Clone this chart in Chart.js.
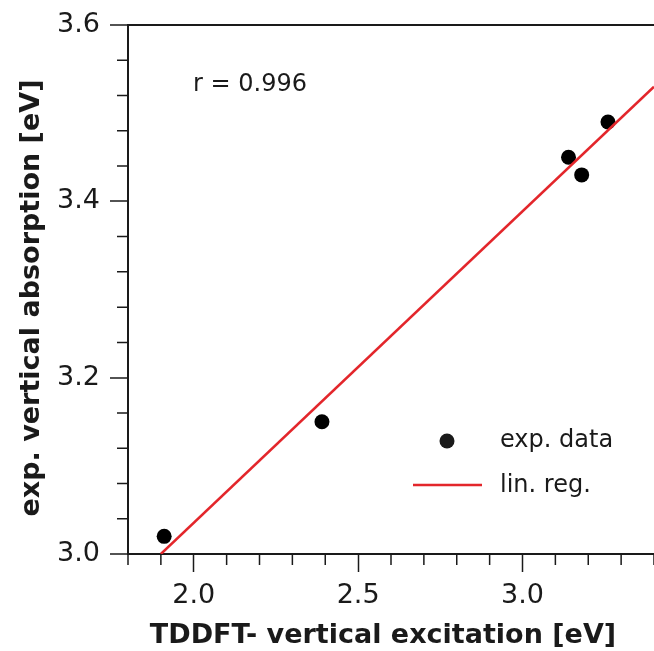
<!DOCTYPE html>
<html>
<head>
<meta charset="utf-8">
<script src="https://cdn.jsdelivr.net/npm/chart.js@4/dist/chart.umd.min.js"></script>
<style>
  html, body { margin: 0; padding: 0; background: #fff; }
  #wrap { width: 654px; height: 651px; }
</style>
</head>
<body>
<div id="wrap"><canvas id="corrChart" width="654" height="651"></canvas></div>
<script>
// measured points (TDDFT vs experiment)
var tddft = [1.91, 2.39, 3.14, 3.18, 3.26];
var expAbs = [3.02, 3.15, 3.45, 3.43, 3.49];

// regression line end points
var regX = [1.9, 3.4];
var regY = [3.0, 3.53];

var xMajor = [2.0, 2.5, 3.0];
var xMinor = [1.8, 1.9, 2.1, 2.2, 2.3, 2.4, 2.6, 2.7, 2.8, 2.9, 3.1, 3.2, 3.3, 3.4];
var yMajor = [3.0, 3.2, 3.4, 3.6];
var yMinor = [3.04, 3.08, 3.12, 3.16, 3.24, 3.28, 3.32, 3.36, 3.44, 3.48, 3.52, 3.56];

var xTitle = 'TDDFT- vertical excitation [eV]';
var yTitle = 'exp. vertical absorption [eV]';
var rText = 'r = 0.996';
var legendLabels = ['exp. data', 'lin. reg.'];

var ink = '#1a1a1a';
var red = '#e3262b';

Chart.defaults.font.family = 'DejaVu Sans';
Chart.defaults.color = ink;

var decorPlugin = {
    id: 'decor',
    afterDraw: function(chart) {
        var ctx = chart.ctx;
        var xs = chart.scales.x, ys = chart.scales.y;
        var area = chart.chartArea;
        ctx.save();
        // minor ticks
        ctx.strokeStyle = ink;
        ctx.lineWidth = 1.5;
        ctx.beginPath();
        xMinor.forEach(function(v) {
            var px = xs.getPixelForValue(v);
            ctx.moveTo(px, area.bottom);
            ctx.lineTo(px, area.bottom + 11);
        });
        yMinor.forEach(function(v) {
            var py = ys.getPixelForValue(v);
            ctx.moveTo(area.left - 11, py);
            ctx.lineTo(area.left, py);
        });
        ctx.stroke();

        // correlation text
        ctx.fillStyle = ink;
        ctx.font = '24px "DejaVu Sans"';
        ctx.textAlign = 'left';
        ctx.textBaseline = 'alphabetic';
        ctx.fillText(rText, 193, 91);

        // legend
        ctx.beginPath();
        ctx.arc(447, 441, 7.5, 0, Math.PI * 2);
        ctx.fill();
        ctx.fillText(legendLabels[0], 500, 447);
        ctx.strokeStyle = red;
        ctx.lineWidth = 2.5;
        ctx.beginPath();
        ctx.moveTo(413, 485);
        ctx.lineTo(482, 485);
        ctx.stroke();
        ctx.fillText(legendLabels[1], 500, 492);

        // axis titles
        ctx.font = 'bold 27px "DejaVu Sans"';
        ctx.textAlign = 'center';
        ctx.fillText(xTitle, 383, 643);
        ctx.translate(39, 298);
        ctx.rotate(-Math.PI / 2);
        ctx.fillText(yTitle, 0, 0);
        ctx.restore();
    }
};

var ctx = document.getElementById('corrChart').getContext('2d');
var corrChart = new Chart(ctx, {
    type: 'scatter',
    data: {
        datasets: [{
            label: legendLabels[1],
            type: 'line',
            data: regX.map(function(x, i) { return { x: x, y: regY[i] }; }),
            borderColor: red,
            borderWidth: 2.5,
            pointRadius: 0,
            fill: false,
            order: 0
        }, {
            label: legendLabels[0],
            data: tddft.map(function(x, i) { return { x: x, y: expAbs[i] }; }),
            backgroundColor: '#000',
            borderWidth: 0,
            pointRadius: 7.5,
            order: 1
        }]
    },
    options: {
        responsive: false,
        animation: false,
        layout: { autoPadding: false, padding: { top: 25, right: 0, left: 0, bottom: 0 } },
        plugins: {
            legend: { display: false },
            tooltip: { enabled: false }
        },
        scales: {
            x: {
                type: 'linear',
                min: 1.8,
                max: 3.4,
                afterBuildTicks: function(scale) {
                    scale.ticks = xMajor.map(function(v) { return { value: v }; });
                },
                afterFit: function(scale) {
                    scale.height = 97;
                    scale.paddingLeft = 0;
                    scale.paddingRight = 0;
                },
                ticks: {
                    font: { size: 27 },
                    color: ink,
                    padding: 8,
                    maxRotation: 0,
                    callback: function(v) { return Number(v).toFixed(1); }
                },
                grid: {
                    drawOnChartArea: false,
                    tickLength: 18,
                    tickWidth: 1.5,
                    tickColor: ink
                },
                border: { display: true, color: ink, width: 2 }
            },
            y: {
                type: 'linear',
                min: 3.0,
                max: 3.6,
                afterBuildTicks: function(scale) {
                    scale.ticks = yMajor.map(function(v) { return { value: v }; });
                },
                afterFit: function(scale) {
                    scale.width = 128;
                    scale.paddingTop = 0;
                    scale.paddingBottom = 0;
                },
                ticks: {
                    font: { size: 27 },
                    color: ink,
                    padding: 10,
                    callback: function(v) { return Number(v).toFixed(1); }
                },
                grid: {
                    drawOnChartArea: true,
                    color: function(c) { return c.tick && c.tick.value === 3.6 ? ink : 'rgba(0,0,0,0)'; },
                    lineWidth: 2,
                    tickLength: 18,
                    tickWidth: 1.5,
                    tickColor: ink
                },
                border: { display: true, color: ink, width: 2 }
            }
        }
    },
    plugins: [decorPlugin]
});
</script>
</body>
</html>
